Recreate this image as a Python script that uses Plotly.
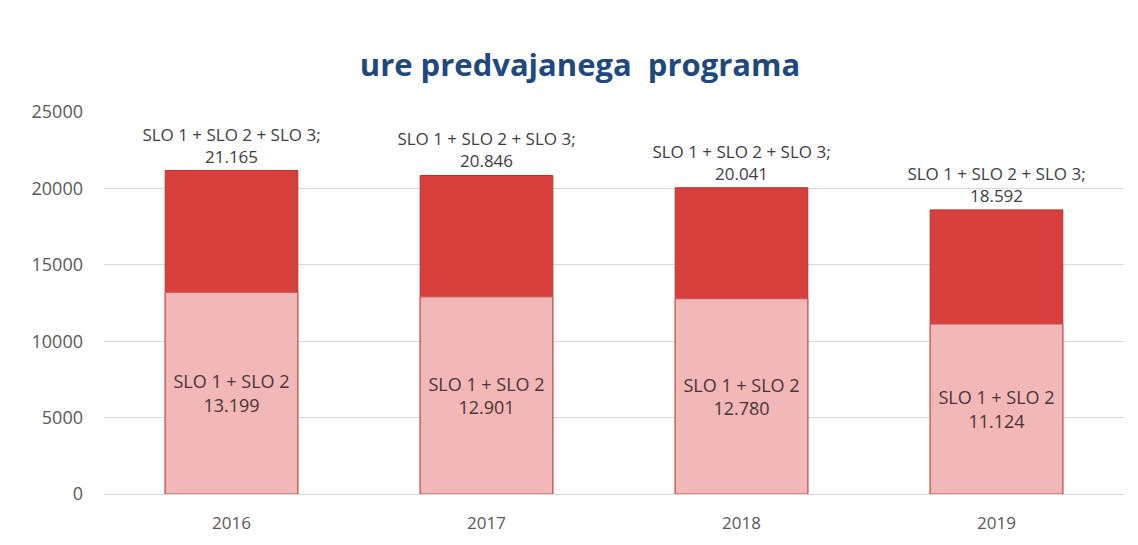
import plotly.graph_objects as go

years = ["2016", "2017", "2018", "2019"]
total_all = [21165, 20846, 20041, 18592]   # SLO 1 + SLO 2 + SLO 3
slo12 = [13199, 12901, 12780, 11124]       # SLO 1 + SLO 2
name_all = "SLO 1 + SLO 2 + SLO 3"
name_12 = "SLO 1 + SLO 2"
y_ticks = [0, 5000, 10000, 15000, 20000, 25000]

FONT = "Open Sans"

fig = go.Figure()
fig.add_trace(go.Bar(
    x=years, y=total_all, name=name_all,
    marker=dict(color="#D8403D", line=dict(color="#B52F2C", width=1)),
    texttemplate=name_all + ";<br>%{y:,}",
    textposition="outside",
    textfont=dict(family=FONT, size=17, color="#404040"),
    constraintext="none",
    cliponaxis=False,
))
fig.add_trace(go.Bar(
    x=years, y=slo12, name=name_12,
    marker=dict(color="#F2B7B7", line=dict(color="#C75252", width=1)),
    texttemplate=name_12 + "<br>%{y:,}",
    textposition="inside", insidetextanchor="middle",
    textfont=dict(family=FONT, size=18, color="#4A3434"),
    constraintext="none",
))

fig.update_layout(
    width=1138, height=545,
    barmode="overlay", bargap=0.48,
    separators=",.",
    showlegend=False,
    plot_bgcolor="white", paper_bgcolor="white",
    margin=dict(l=96, r=22, t=104, b=59),
    font=dict(family=FONT, color="#595959"),
    title=dict(
        text="<b>ure predvajanega  programa</b>",
        x=572 / 1138, xanchor="center", xref="container",
        y=1 - 57 / 545, yanchor="middle", yref="container",
        font=dict(family=FONT, size=31, color="#1F497D"),
    ),
    uniformtext=dict(mode=False),
)
fig.update_xaxes(
    showgrid=False, showline=True, linecolor="#D9D9D9", linewidth=1,
    ticks="", tickfont=dict(family=FONT, size=17, color="#595959"),
    ticklabelstandoff=14,
)
fig.update_yaxes(
    range=[0, 25000], tickvals=y_ticks, tickformat="d",
    showgrid=True, gridcolor="#D9D9D9", gridwidth=1,
    zeroline=False, showline=False, ticks="",
    tickfont=dict(family=FONT, size=18, color="#595959"),
    ticklabelstandoff=20,
)

fig.write_html("out.html")
